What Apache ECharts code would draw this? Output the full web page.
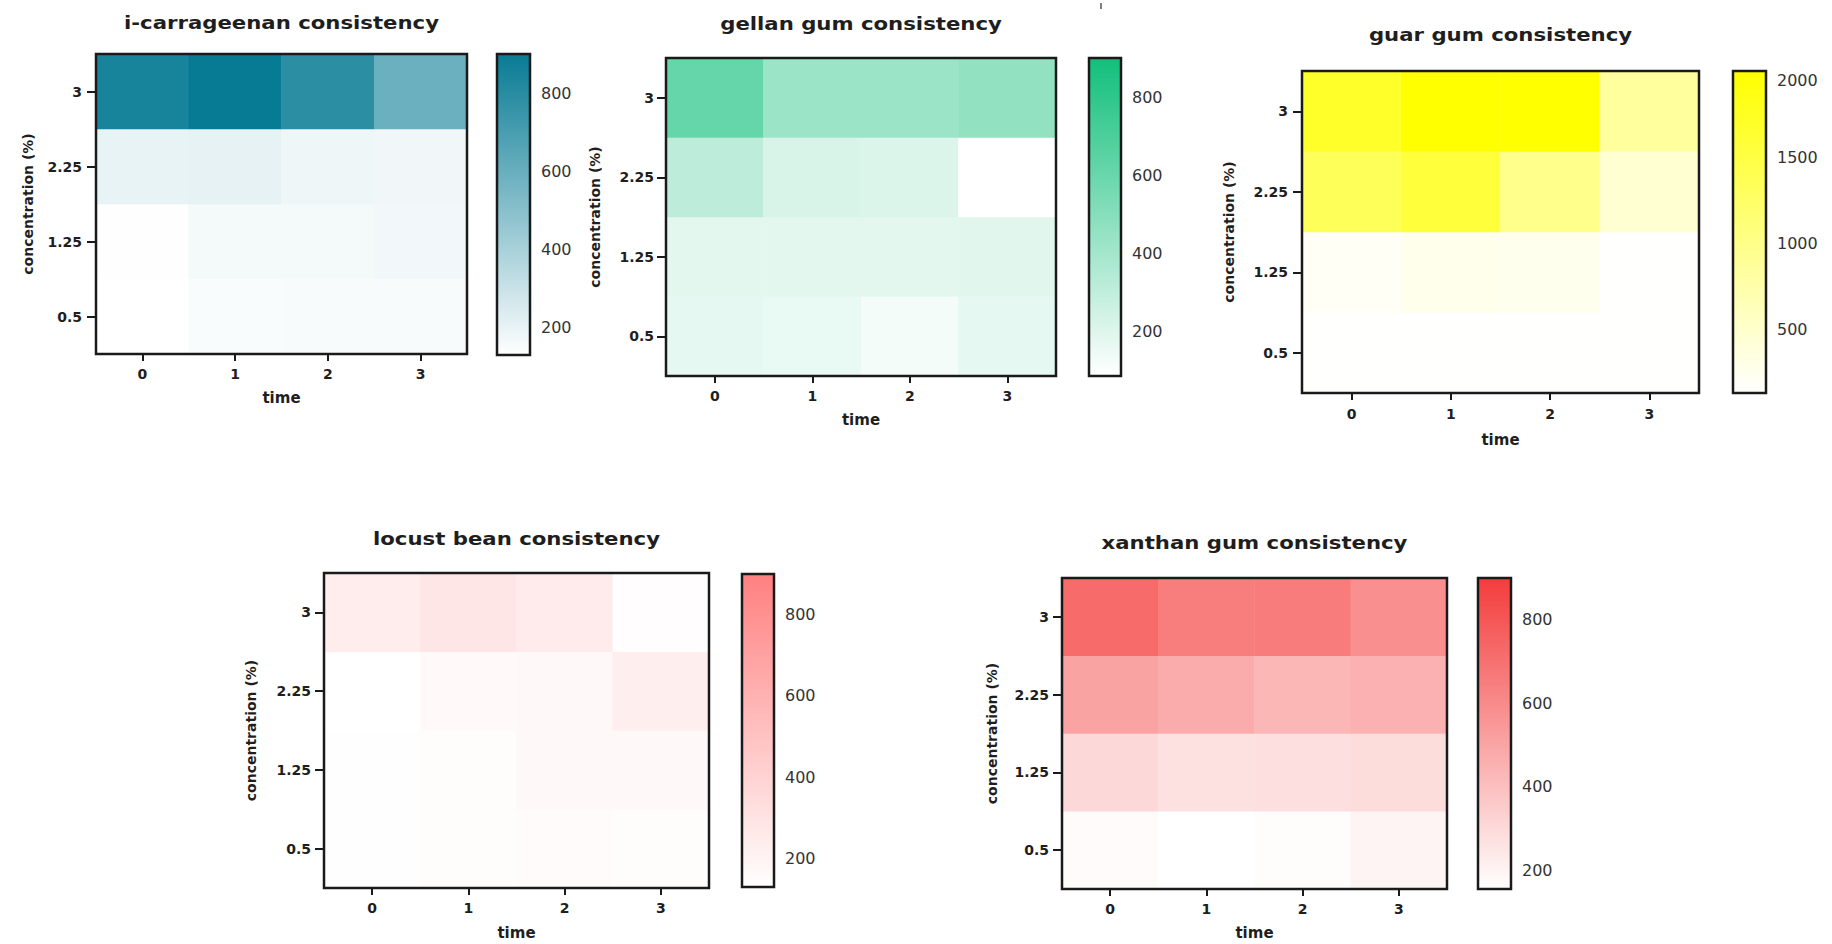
<!DOCTYPE html>
<html><head><meta charset="utf-8">
<script src="https://cdn.jsdelivr.net/npm/echarts@6/dist/echarts.min.js"></script>
<style>html,body{margin:0;padding:0;background:#fff}#c{width:1832px;height:944px}</style>
</head><body><div id="c"></div>
<script>
// ---- data ----
const timeLabels = ['0', '1', '2', '3'];
const concLabels = ['0.5', '1.25', '2.25', '3'];
const panelTitles = ['i-carrageenan consistency', 'gellan gum consistency', 'guar gum consistency', 'locust bean consistency', 'xanthan gum consistency'];
// rows: concentration 0.5, 1.25, 2.25, 3 ; columns: time 0..3
const carrageenan = [
  [131, 150, 152, 155],
  [133, 165, 165, 170],
  [202, 207, 180, 175],
  [850, 900, 790, 590]
];
const gellan = [
  [174, 161, 127, 174],
  [183, 183, 183, 188],
  [313, 220, 206, 85],
  [613, 427, 427, 460]
];
const guar = [
  [140, 142, 142, 140],
  [200, 275, 260, 150],
  [1340, 1560, 975, 465],
  [1700, 2000, 2000, 845]
];
const locust = [
  [135, 150, 155, 150],
  [135, 148, 170, 175],
  [130, 166, 172, 233],
  [238, 284, 251, 142]
];
const xanthan = [
  [170, 155, 165, 197],
  [304, 270, 278, 290],
  [506, 472, 434, 453],
  [721, 652, 655, 583]
];
const scaleMin = [130, 85, 135, 130, 155];
const scaleMax = [900, 900, 2000, 900, 900];
const scaleTicks = [
  [200, 400, 600, 800],
  [200, 400, 600, 800],
  [500, 1000, 1500, 2000],
  [200, 400, 600, 800],
  [200, 400, 600, 800]
];
const panelValues = [carrageenan, gellan, guar, locust, xanthan];

// ---- styles / layout ----
const maxColors = ['#087b94', '#12bf7b', '#ffff00', '#ff8080', '#f43c3c'];
const layout = [
  {plot: [96, 54, 371, 300], bar: [497, 54, 33, 301], xGap: 36.5, yGap: 61, xMargin: 13, yMargin: 14, titleY: 23},
  {plot: [666, 58, 390, 318], bar: [1089, 58, 32, 318], xGap: 36.5, yGap: 64, xMargin: 13, yMargin: 12, titleY: 24},
  {plot: [1302, 71, 397, 322], bar: [1733, 71, 33, 322], xGap: 39.5, yGap: 66, xMargin: 14, yMargin: 14, titleY: 35},
  {plot: [324, 573, 385, 315], bar: [742, 574, 32, 313], xGap: 37.5, yGap: 66, xMargin: 13, yMargin: 13, titleY: 539},
  {plot: [1062, 578, 385, 311], bar: [1478, 578, 33, 311], xGap: 36.5, yGap: 63, xMargin: 13, yMargin: 13, titleY: 543}
];
const FONT = 'DejaVu Sans';
const INK = '#1e1e1e';
const BORDER = '#1a1a1a';

const grids = [], xAxes = [], yAxes = [], series = [], visualMaps = [], graphics = [];

panelValues.forEach(function (vals, i) {
  const L = layout[i];
  const g0 = grids.length;
  grids.push({left: L.plot[0], top: L.plot[1], width: L.plot[2], height: L.plot[3], show: true, z: 10,
    backgroundColor: 'rgba(0,0,0,0)', borderColor: BORDER, borderWidth: 2.5, outerBoundsMode: 'none'});
  grids.push({left: L.bar[0], top: L.bar[1], width: L.bar[2], height: L.bar[3], show: true, z: 10,
    backgroundColor: 'rgba(0,0,0,0)', borderColor: BORDER, borderWidth: 2.5, outerBoundsMode: 'none'});

  const xPlot = xAxes.length;
  xAxes.push({
    gridIndex: g0, type: 'category', data: timeLabels, position: 'bottom',
    name: 'time', nameLocation: 'middle', nameGap: L.xGap,
    nameTextStyle: {fontFamily: FONT, fontWeight: 'bold', fontSize: 15, color: INK},
    axisLine: {show: false},
    axisTick: {show: true, alignWithLabel: true, length: 7, lineStyle: {color: BORDER, width: 2}},
    axisLabel: {fontFamily: FONT, fontWeight: 'bold', fontSize: 14, color: INK, margin: L.xMargin},
    splitLine: {show: false}
  });
  const xBar = xAxes.length;
  xAxes.push({gridIndex: g0 + 1, type: 'category', data: [''], show: false});

  const yPlot = yAxes.length;
  yAxes.push({
    gridIndex: g0, type: 'category', data: concLabels, position: 'left',
    name: 'concentration (%)', nameLocation: 'middle', nameGap: L.yGap, nameRotate: 90,
    nameTextStyle: {fontFamily: FONT, fontWeight: 'bold', fontSize: 14, color: INK},
    axisLine: {show: false},
    axisTick: {show: true, alignWithLabel: true, length: 9, lineStyle: {color: BORDER, width: 2}},
    axisLabel: {fontFamily: FONT, fontWeight: 'bold', fontSize: 14, color: INK, margin: L.yMargin},
    splitLine: {show: false}
  });
  const yBarL = yAxes.length;
  yAxes.push({
    gridIndex: g0 + 1, type: 'value', position: 'left', min: scaleMin[i], max: scaleMax[i],
    axisLine: {show: false},
    axisTick: {show: true, inside: true, length: 5, customValues: scaleTicks[i], lineStyle: {color: BORDER, width: 2}},
    axisLabel: {show: false}, splitLine: {show: false}
  });
  yAxes.push({
    gridIndex: g0 + 1, type: 'value', position: 'right', min: scaleMin[i], max: scaleMax[i],
    axisLine: {show: false},
    axisTick: {show: true, inside: true, length: 5, customValues: scaleTicks[i], lineStyle: {color: BORDER, width: 2}},
    axisLabel: {
      show: true, customValues: scaleTicks[i], margin: 11,
      fontFamily: FONT, fontSize: 16, color: '#333',
      formatter: function (v) { return v === scaleMax[i] ? '{low|' + v + '}' : String(v); },
      rich: {low: {fontFamily: FONT, fontSize: 16, color: '#333', padding: [18, 0, 0, 0]}}
    },
    splitLine: {show: false}
  });

  const cells = [];
  vals.forEach(function (row, yi) {
    row.forEach(function (v, xi) { cells.push([xi, yi, v]); });
  });
  const hIdx = series.length;
  series.push({
    type: 'heatmap', xAxisIndex: xPlot, yAxisIndex: yPlot, data: cells,
    itemStyle: {borderWidth: 0}, emphasis: {disabled: true}, silent: true, progressive: 0
  });
  const col = maxColors[i];
  series.push({
    type: 'custom', xAxisIndex: xBar, yAxisIndex: yBarL, silent: true,
    data: [[0, scaleMin[i], scaleMax[i]]],
    renderItem: function (params, api) {
      const lo = api.coord([0, api.value(1)]);
      const hi = api.coord([0, api.value(2)]);
      const w = api.size([1, 0])[0];
      return {
        type: 'rect',
        shape: {x: lo[0] - w / 2, y: hi[1], width: w, height: lo[1] - hi[1]},
        style: {fill: new echarts.graphic.LinearGradient(0, 0, 0, 1, [
          {offset: 0, color: col}, {offset: 1, color: '#ffffff'}])}
      };
    }
  });
  visualMaps.push({
    type: 'continuous', show: false, seriesIndex: hIdx, dimension: 2,
    min: scaleMin[i], max: scaleMax[i], inRange: {color: ['#ffffff', col]}
  });

  graphics.push({
    type: 'text', x: L.plot[0] + L.plot[2] / 2, y: L.titleY, scaleX: 1.18,
    style: {text: panelTitles[i], font: 'bold 18px "DejaVu Sans"', fill: INK, textAlign: 'center', textVerticalAlign: 'middle'}
  });
});

graphics.push({type: 'line', shape: {x1: 1101, y1: 3, x2: 1101, y2: 9}, style: {stroke: '#555', lineWidth: 1.5}});

const chart = echarts.init(document.getElementById('c'), null, {renderer: 'svg'});
chart.setOption({
  animation: false,
  backgroundColor: '#ffffff',
  textStyle: {fontFamily: FONT},
  grid: grids, xAxis: xAxes, yAxis: yAxes,
  visualMap: visualMaps, series: series, graphic: graphics
});
</script></body></html>
